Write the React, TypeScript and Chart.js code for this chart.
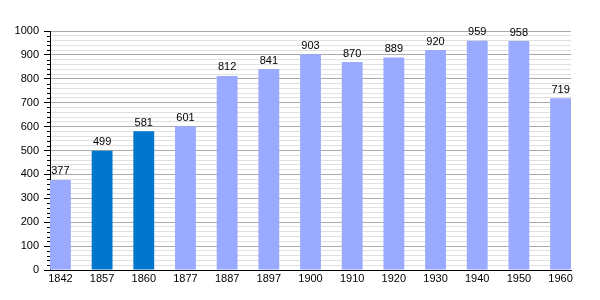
import React, { useEffect, useRef } from "react";
import { Chart, registerables } from "chart.js";

Chart.register(...registerables);

const years = ["1842", "1857", "1860", "1877", "1887", "1897", "1900", "1910", "1920", "1930", "1940", "1950", "1960"];
const population = [377, 499, 581, 601, 812, 841, 903, 870, 889, 920, 959, 958, 719];
const highlighted = [false, true, true, false, false, false, false, false, false, false, false, false, false];

const LIGHT = "#99aaff";
const DARK = "#0077cc";
const FONT = "'Liberation Sans', Arial, sans-serif";

const valueLabels = {
  id: "valueLabels",
  afterDatasetsDraw(chart: any) {
    const ctx = chart.ctx;
    const meta = chart.getDatasetMeta(0);
    ctx.save();
    ctx.font = `11px ${FONT}`;
    ctx.fillStyle = "#000";
    ctx.textAlign = "center";
    ctx.textBaseline = "bottom";
    meta.data.forEach((bar: any, i: number) => {
      ctx.fillText(String(population[i]), bar.x, bar.y - 3);
    });
    ctx.restore();
  },
};

const minorTicks = {
  id: "minorTicks",
  afterDraw(chart: any) {
    const ctx = chart.ctx;
    const y = chart.scales.y;
    ctx.save();
    ctx.strokeStyle = "#000";
    ctx.lineWidth = 1;
    ctx.beginPath();
    for (let v = 0; v <= 1000; v += 20) {
      if (v % 100 === 0) continue;
      const py = Math.round(y.getPixelForValue(v)) + 0.5;
      ctx.moveTo(y.right - 3, py);
      ctx.lineTo(y.right, py);
    }
    ctx.stroke();
    ctx.restore();
  },
};

export default function App() {
  const ref = useRef<HTMLCanvasElement>(null);
  useEffect(() => {
    const chart = new Chart(ref.current as HTMLCanvasElement, {
      type: "bar",
      data: {
        datasets: [
          {
            data: population.map((v, i) => ({ x: i, y: v })),
            backgroundColor: highlighted.map((h) => (h ? DARK : LIGHT)),
            borderWidth: 0,
            barPercentage: 0.5,
            categoryPercentage: 1,
          },
        ],
      },
      options: {
        animation: false,
        responsive: false,
        maintainAspectRatio: false,
        layout: { padding: { left: 0, right: 29, top: 31, bottom: 0 } },
        plugins: { legend: { display: false }, tooltip: { enabled: false } },
        scales: {
          x: {
            type: "linear",
            min: -0.25,
            max: 12.25,
            offset: false,
            afterBuildTicks: (scale: any) => {
              scale.ticks = years.map((_, i) => ({ value: i }));
            },
            afterFit: (scale: any) => {
              scale.height = 30;
            },
            grid: { display: false, drawTicks: false },
            border: { display: true, color: "#000", width: 1 },
            ticks: {
              autoSkip: false,
              maxRotation: 0,
              padding: 2,
              color: "#000",
              font: { family: FONT, size: 11 },
              callback: (v: any) => years[v] ?? "",
            },
          },
          y: {
            min: 0,
            max: 1000,
            afterFit: (scale: any) => {
              scale.width = 50;
            },
            grid: {
              color: (c: any) => (c.tick && c.tick.value % 100 === 0 ? "#aaaaaa" : "#e0e0e0"),
              tickColor: (c: any) => (c.tick && c.tick.value % 100 === 0 ? "#000" : "rgba(0,0,0,0)"),
              tickLength: 6,
              drawTicks: true,
            },
            border: { display: true, color: "#000", width: 1 },
            ticks: {
              stepSize: 20,
              autoSkip: false,
              padding: 5,
              color: "#000",
              font: { family: FONT, size: 11 },
              callback: (v: any) => (Number(v) % 100 === 0 ? String(v) : ""),
            },
          },
        },
      },
      plugins: [valueLabels, minorTicks],
    });
    return () => chart.destroy();
  }, []);
  return (
    <div style={{ position: "absolute", left: 0, top: 0, width: 600, height: 300, background: "#fff" }}>
      <canvas ref={ref} width={600} height={300} style={{ width: 600, height: 300 }} />
    </div>
  );
}
